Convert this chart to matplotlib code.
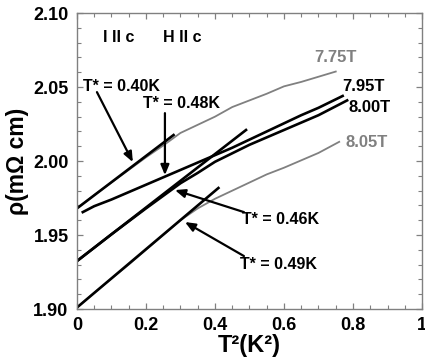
import matplotlib
matplotlib.use("Agg")
import matplotlib.pyplot as plt
from matplotlib.ticker import MultipleLocator, FixedLocator, FixedFormatter

plt.rcParams['font.family'] = ['Liberation Sans', 'DejaVu Sans']
plt.rcParams['font.weight'] = 'bold'

# ---- data (T^2 in K^2, rho in mOhm cm) ----
x_775 = [0, 0.05, 0.1, 0.15, 0.2, 0.25, 0.3, 0.35, 0.4, 0.45, 0.5, 0.55, 0.6, 0.65, 0.7, 0.75]
y_775 = [1.968, 1.977, 1.9855, 1.994, 2.0025, 2.0105, 2.019, 2.0245, 2.030, 2.0365,
         2.041, 2.0455, 2.0505, 2.0535, 2.057, 2.0605]

x_795 = [0.017, 0.05, 0.1, 0.15, 0.2, 0.25, 0.3, 0.35, 0.4, 0.45, 0.5, 0.55, 0.6, 0.65, 0.7, 0.77]
y_795 = [1.9655, 1.9695, 1.974, 1.979, 1.984, 1.989, 1.994, 1.999, 2.004, 2.009,
         2.0145, 2.020, 2.0255, 2.031, 2.036, 2.044]

x_800 = [0, 0.1, 0.2, 0.3, 0.35, 0.4, 0.5, 0.6, 0.7, 0.783]
y_800 = [1.9324, 1.9505, 1.968, 1.985, 1.992, 1.9995, 2.011, 2.021, 2.031, 2.041]

x_805 = [0, 0.05, 0.1, 0.15, 0.2, 0.25, 0.3, 0.35, 0.4, 0.45, 0.5, 0.55, 0.6, 0.65, 0.7, 0.76]
y_805 = [1.901, 1.911, 1.9205, 1.930, 1.940, 1.950, 1.960, 1.968, 1.9745, 1.980,
         1.9855, 1.991, 1.9955, 2.0005, 2.0055, 2.013]

# linear T^2 fits
fit_775_x = [0, 0.28]
fit_775_y = [1.968, 2.0176]
fit_800_x = [0, 0.49]
fit_800_y = [1.9324, 2.021]
fit_805_x = [0, 0.41]
fit_805_y = [1.901, 1.9818]

field_labels = ['7.75T', '7.95T', '8.00T', '8.05T']
tstar_labels = ['T* = 0.40K', 'T* = 0.48K', 'T* = 0.46K', 'T* = 0.49K']

xtick_vals = [0, 0.2, 0.4, 0.6, 0.8, 1.0]
xtick_labels = ['0', '0.2', '0.4', '0.6', '0.8', '1']
ytick_vals = [1.90, 1.95, 2.00, 2.05, 2.10]
ytick_labels = ['1.90', '1.95', '2.00', '2.05', '2.10']

GRAY = '#808080'

fig = plt.figure(figsize=(4.25, 3.64), dpi=100)
ax = fig.add_axes([0.181, 0.151, 0.812, 0.813])

ax.plot(x_775, y_775, color=GRAY, lw=1.3)
ax.plot(x_805, y_805, color=GRAY, lw=1.3)
ax.plot(x_795, y_795, color='black', lw=1.9)
ax.plot(x_800, y_800, color='black', lw=1.9)
ax.plot(fit_775_x, fit_775_y, color='black', lw=1.9)
ax.plot(fit_800_x, fit_800_y, color='black', lw=1.9)
ax.plot(fit_805_x, fit_805_y, color='black', lw=1.9)

ax.set_xlim(0, 1.0)
ax.set_ylim(1.90, 2.10)

ax.xaxis.set_major_locator(FixedLocator(xtick_vals))
ax.xaxis.set_major_formatter(FixedFormatter(xtick_labels))
ax.xaxis.set_minor_locator(MultipleLocator(0.05))
ax.yaxis.set_major_locator(FixedLocator(ytick_vals))
ax.yaxis.set_major_formatter(FixedFormatter(ytick_labels))
ax.yaxis.set_minor_locator(MultipleLocator(0.01))

ax.tick_params(which='both', direction='in', top=True, right=True, color=GRAY,
               labelsize=13, pad=6)
ax.tick_params(which='major', length=4.5, width=0.9)
ax.tick_params(which='minor', length=2.8, width=0.8)
for s in ax.spines.values():
    s.set_color(GRAY)
    s.set_linewidth(1.0)
for lab in ax.get_xticklabels() + ax.get_yticklabels():
    lab.set_fontweight('bold')

ax.set_xlabel('T²(K²)', fontsize=17, fontweight='bold', labelpad=0)
ax.set_ylabel('ρ(mΩ cm)', fontsize=16.5, fontweight='bold', labelpad=3)

fs = 11.5
ax.text(0.075, 2.0838, 'I II c', fontsize=fs, fontweight='bold', va='center', ha='left')
ax.text(0.249, 2.0838, 'H II c', fontsize=fs, fontweight='bold', va='center', ha='left')

fs2 = 12
ax.text(0.687, 2.0699, field_labels[0], color=GRAY, fontsize=fs2, fontweight='bold', va='center')
ax.text(0.768, 2.0507, field_labels[1], color='black', fontsize=fs2, fontweight='bold', va='center')
ax.text(0.788, 2.0361, field_labels[2], color='black', fontsize=fs2, fontweight='bold', va='center')
ax.text(0.777, 2.0125, field_labels[3], color=GRAY, fontsize=fs2, fontweight='bold', va='center')

ax.text(0.017, 2.0507, tstar_labels[0], fontsize=fs, fontweight='bold', va='center')
ax.text(0.191, 2.0389, tstar_labels[1], fontsize=fs, fontweight='bold', va='center')
ax.text(0.478, 1.9605, tstar_labels[2], fontsize=fs, fontweight='bold', va='center')
ax.text(0.472, 1.9300, tstar_labels[3], fontsize=fs, fontweight='bold', va='center')

arrow_kw = dict(arrowstyle='-|>,head_length=0.6,head_width=0.25', color='black', lw=1.6,
                shrinkA=0, shrinkB=0)
ax.annotate('', xy=(0.162, 1.9993), xytext=(0.058, 2.0466), arrowprops=arrow_kw)
ax.annotate('', xy=(0.255, 1.9905), xytext=(0.255, 2.0324), arrowprops=arrow_kw)
ax.annotate('', xy=(0.284, 1.9804), xytext=(0.484, 1.9655), arrowprops=arrow_kw)
ax.annotate('', xy=(0.313, 1.9588), xytext=(0.484, 1.9358), arrowprops=arrow_kw)

fig.savefig('out.png', dpi=100)
